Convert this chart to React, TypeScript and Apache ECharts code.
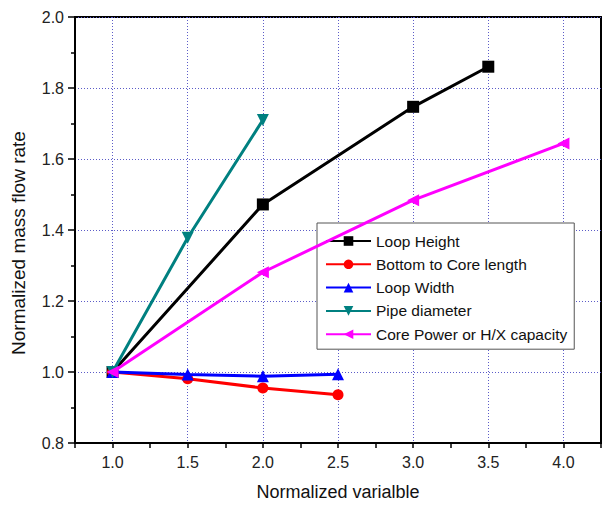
import React, { useEffect, useRef } from "react";
import * as echarts from "echarts";

const seriesNames = [
  "Loop Height",
  "Bottom to Core length",
  "Loop Width",
  "Pipe diameter",
  "Core Power or H/X capacity",
];
const loopHeightX = [1.0, 2.0, 3.0, 3.5];
const loopHeightY = [1.0, 1.472, 1.747, 1.86];
const bottomCoreX = [1.0, 1.5, 2.0, 2.5];
const bottomCoreY = [1.0, 0.981, 0.955, 0.936];
const loopWidthX = [1.0, 1.5, 2.0, 2.5];
const loopWidthY = [1.0, 0.993, 0.988, 0.994];
const pipeDiaX = [1.0, 1.5, 2.0];
const pipeDiaY = [1.0, 1.378, 1.71];
const corePowerX = [1.0, 2.0, 3.0, 4.0];
const corePowerY = [1.0, 1.281, 1.484, 1.644];

const colors = ["#000000", "#ff0000", "#0000ff", "#008080", "#ff00ff"];
const symbols = ["rect", "circle", "triangle", "triangle", "triangle"];
const rotates = [0, 0, 0, 180, 90];

const xs = [loopHeightX, bottomCoreX, loopWidthX, pipeDiaX, corePowerX];
const ys = [loopHeightY, bottomCoreY, loopWidthY, pipeDiaY, corePowerY];

const FONT = "Liberation Sans, Arial, sans-serif";

export default function App() {
  const ref = useRef<HTMLDivElement>(null);
  useEffect(() => {
    if (!ref.current) return;
    const chart = echarts.init(ref.current, null, { renderer: "svg" });
    const gridColor = "#5c5cc8";
    chart.setOption({
      animation: false,
      backgroundColor: "#ffffff",
      grid: {
        left: 75,
        right: 9,
        top: 17,
        bottom: 64,
        show: true,
        borderColor: "#000",
        borderWidth: 2,
        backgroundColor: "transparent",
      },
      legend: {
        orient: "vertical",
        left: 317,
        top: 223,
        itemWidth: 45,
        itemHeight: 12,
        itemGap: 7.3,
        padding: [10, 7, 7, 8],
        backgroundColor: "#fff",
        borderColor: "#555",
        borderWidth: 1,
        borderRadius: 0,
        textStyle: { fontFamily: FONT, fontSize: 15.5, color: "#111" },
        data: seriesNames,
      },
      xAxis: {
        type: "value",
        min: 0.75,
        max: 4.25,
        interval: 0.25,
        name: "Normalized varialble",
        nameLocation: "middle",
        nameGap: 40,
        nameTextStyle: { fontFamily: FONT, fontSize: 18, color: "#111" },
        axisLine: { show: true, onZero: false, lineStyle: { color: "#000", width: 2 } },
        axisTick: { show: true, inside: false, length: 5, lineStyle: { color: "#000", width: 1.5 } },
        axisLabel: {
          margin: 11,
          fontFamily: FONT,
          fontSize: 16,
          color: "#222",
          showMinLabel: true,
          showMaxLabel: true,
          formatter: (v: number) => {
            const k = Math.round(v * 4);
            if (k % 2 !== 0 || v < 0.99 || v > 4.01) return "";
            return v.toFixed(1);
          },
        },
        splitLine: {
          show: true,
          lineStyle: { color: ["rgba(0,0,0,0)", gridColor], type: [1, 2], width: 1 },
        },
      },
      yAxis: {
        type: "value",
        min: 0.8,
        max: 2.0,
        interval: 0.2,
        name: "Normalized mass flow rate",
        nameLocation: "middle",
        nameGap: 47,
        nameRotate: 90,
        nameTextStyle: { fontFamily: FONT, fontSize: 19, color: "#111", padding: [0, 26, 0, 0] },
        axisLine: { show: true, onZero: false, lineStyle: { color: "#000", width: 2 } },
        axisTick: { show: true, inside: false, length: 7, lineStyle: { color: "#000", width: 1.5 } },
        minorTick: { show: true, splitNumber: 2, length: 4, lineStyle: { color: "#000", width: 1.5 } },
        axisLabel: {
          margin: 11,
          fontFamily: FONT,
          fontSize: 16,
          color: "#222",
          formatter: (v: number) => v.toFixed(1),
        },
        splitLine: {
          show: true,
          lineStyle: { color: gridColor, type: [1, 2], width: 1 },
        },
      },
      series: seriesNames.map((name, i) => ({
        name,
        type: "line",
        data: xs[i].map((x, j) => [x, ys[i][j]]),
        symbol: symbols[i],
        symbolSize: i === 1 ? 11 : 12,
        symbolRotate: rotates[i],
        showAllSymbol: true,
        lineStyle: { color: colors[i], width: 3 },
        itemStyle: { color: colors[i] },
        z: 2 + i,
      })),
    });
    return () => chart.dispose();
  }, []);
  return (
    <div
      ref={ref}
      style={{ position: "fixed", left: 0, top: 0, width: 610, height: 507, background: "#fff" }}
    />
  );
}
